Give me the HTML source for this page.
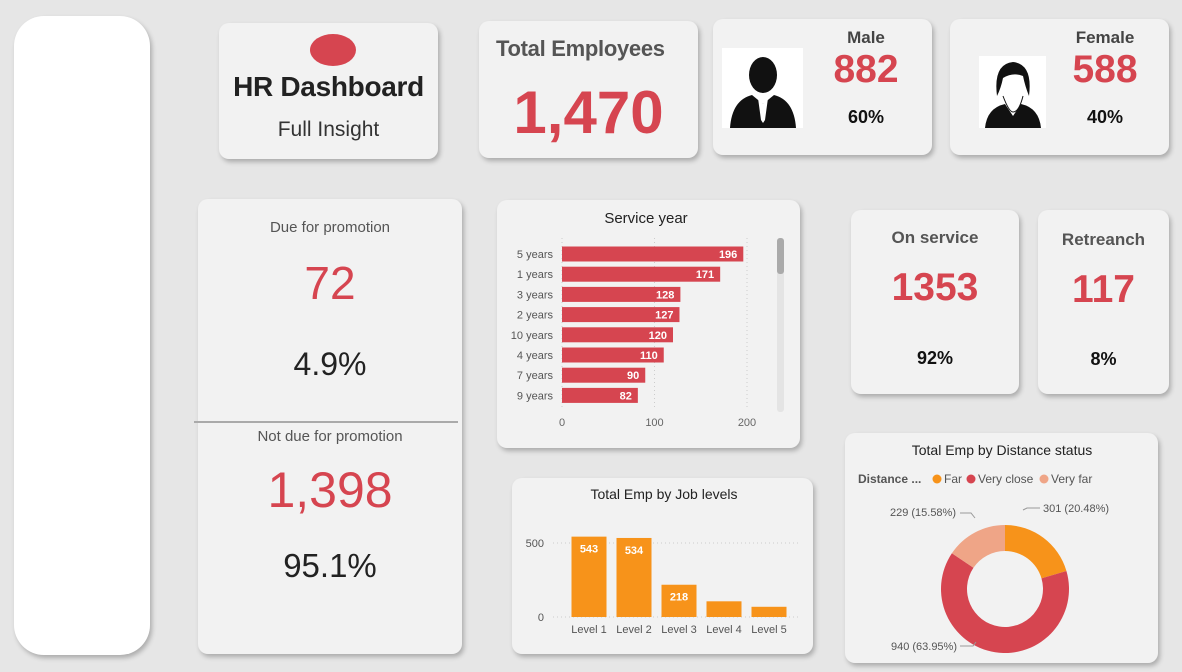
<!DOCTYPE html>
<html><head><meta charset="utf-8"><style>
body{margin:0;width:1182px;height:672px;background:#e6e6e6;font-family:"Liberation Sans","DejaVu Sans",sans-serif;position:relative;overflow:hidden}
.card{position:absolute;background:#f2f2f2;border-radius:10px;box-shadow:2px 3px 5px rgba(0,0,0,0.25)}
.t{position:absolute;width:100%;text-align:center;left:0;line-height:1}
.red{color:#d64550}
svg text{font-family:"Liberation Sans","DejaVu Sans",sans-serif}
</style></head><body>
<div style="position:absolute;left:14px;top:16px;width:136px;height:639px;background:#fff;border-radius:30px;box-shadow:2px 3px 5px rgba(0,0,0,0.25)"></div>

<div class="card" style="left:219px;top:23px;width:219px;height:136px">
 <div style="position:absolute;left:91px;top:11px;width:46px;height:32px;border-radius:50%;background:#d64550"></div>
 <div class="t" style="top:50px;font-size:28px;font-weight:bold;color:#222;letter-spacing:-0.3px">HR Dashboard</div>
 <div class="t" style="top:96px;font-size:21px;color:#333">Full Insight</div>
</div>

<div class="card" style="left:479px;top:21px;width:219px;height:137px">
 <div style="position:absolute;left:17px;top:15px;font-size:22px;font-weight:bold;color:#555;letter-spacing:-0.3px">Total Employees</div>
 <div class="t red" style="top:62px;font-size:60px;font-weight:bold">1,470</div>
</div>

<div class="card" style="left:713px;top:19px;width:219px;height:136px">
 <svg style="position:absolute;left:9px;top:29px" width="81" height="80"><rect width="81" height="80" fill="#fff"/><ellipse cx="41" cy="27" rx="14" ry="18" fill="#111"/><path d="M8 80 Q10 52 30 47 L41 56 L52 47 Q72 52 74 80Z" fill="#111"/><path d="M36 50 L41 56 L46 50 L43 72 L41 75 L39 72Z" fill="#fff"/></svg>
 <div class="t" style="left:103px;width:100px;top:10px;font-size:17px;font-weight:bold;color:#444">Male</div>
 <div class="t red" style="left:103px;width:100px;top:31px;font-size:39px;font-weight:bold">882</div>
 <div class="t" style="left:103px;width:100px;top:89px;font-size:18px;font-weight:bold;color:#111">60%</div>
</div>

<div class="card" style="left:950px;top:19px;width:219px;height:136px">
 <svg style="position:absolute;left:29px;top:37px" width="67" height="72"><rect width="67" height="72" fill="#fff"/><path d="M18 40 Q14 8 34 6 Q54 8 50 40 Q46 30 44 20 Q34 16 24 22 Q22 32 18 40Z" fill="#111"/><path d="M6 72 Q8 52 26 48 L34 60 L42 48 Q60 52 62 72Z" fill="#111"/><path d="M24 40 Q30 56 34 56 Q40 56 44 40" stroke="#111" fill="none"/></svg>
 <div class="t" style="left:105px;width:100px;top:10px;font-size:17px;font-weight:bold;color:#444">Female</div>
 <div class="t red" style="left:105px;width:100px;top:31px;font-size:39px;font-weight:bold">588</div>
 <div class="t" style="left:105px;width:100px;top:89px;font-size:18px;font-weight:bold;color:#111">40%</div>
</div>

<div class="card" style="left:198px;top:199px;width:264px;height:455px">
 <div class="t" style="top:21px;font-size:15px;color:#555">Due for promotion</div>
 <div class="t red" style="top:61px;font-size:46px">72</div>
 <div class="t" style="top:149px;font-size:32px;color:#222">4.9%</div>
 <div style="position:absolute;left:-4px;top:222px;width:264px;height:2px;background:#aaa"></div>
 <div class="t" style="top:230px;font-size:15px;color:#555">Not due for promotion</div>
 <div class="t red" style="top:266px;font-size:50px">1,398</div>
 <div class="t" style="top:350px;font-size:33px;color:#222">95.1%</div>
</div>

<div class="card" style="left:497px;top:200px;width:303px;height:248px"></div>
<svg id="svc" style="position:absolute;left:0;top:0" width="1182" height="672"></svg>

<div class="card" style="left:851px;top:210px;width:168px;height:184px">
 <div class="t" style="top:19px;font-size:17px;font-weight:bold;color:#555">On service</div>
 <div class="t red" style="top:58px;font-size:39px;font-weight:bold">1353</div>
 <div class="t" style="top:139px;font-size:18px;font-weight:bold;color:#111">92%</div>
</div>
<div class="card" style="left:1038px;top:210px;width:131px;height:184px">
 <div class="t" style="top:21px;font-size:17px;font-weight:bold;color:#555">Retreanch</div>
 <div class="t red" style="top:60px;font-size:39px;font-weight:bold">117</div>
 <div class="t" style="top:140px;font-size:18px;font-weight:bold;color:#111">8%</div>
</div>

<div class="card" style="left:512px;top:478px;width:301px;height:176px"></div>
<div class="card" style="left:845px;top:433px;width:313px;height:230px"></div>
<svg id="ov" style="position:absolute;left:0;top:0" width="1182" height="672"></svg>

<script>
const svcCategories=["5 years","1 years","3 years","2 years","10 years","4 years","7 years","9 years"];
const svcValues=[196,171,128,127,120,110,90,82];
const svcTicks=[0,100,200];
const jobCategories=["Level 1","Level 2","Level 3","Level 4","Level 5"];
const jobValues=[543,534,218,106,69];
const jobTicks=[0,500];
const distCategories=["Far","Very close","Very far"];
const distValues=[301,940,229];
const distLabels=["301 (20.48%)","940 (63.95%)","229 (15.58%)"];
const distColors=["#f7931a","#d64550","#efa587"];
const NS="http://www.w3.org/2000/svg";
function mk(p,tag,a,txt){const e=document.createElementNS(NS,tag);for(const k in a)e.setAttribute(k,a[k]);if(txt!==undefined)e.textContent=txt;p.appendChild(e);return e;}
const s=document.getElementById('svc'), o=document.getElementById('ov');
let t=mk(s,'text',{x:646,y:223,'text-anchor':'middle','font-size':15,fill:'#222'},'Service year');


const sx=v=>562+v*0.925, sy=i=>254+i*20.2;
svcTicks.forEach(v=>{
 let l=mk(s,'line',{x1:sx(v),x2:sx(v),y1:238,y2:410,stroke:'#ccc','stroke-dasharray':'1,3'});
 
 
 let tx=mk(s,'text',{x:sx(v),y:426,'text-anchor':'middle','font-size':11,fill:'#666'},v);
 
 
});
svcCategories.forEach((c,i)=>{
 let r=mk(s,'rect',{x:sx(0),y:sy(i)-7.5,width:sx(svcValues[i])-sx(0),height:15,fill:'#d64550'});
 
 
 let lb=mk(s,'text',{x:sx(svcValues[i])-6,y:sy(i)+4,'text-anchor':'end','font-size':11,'font-weight':'bold',fill:'#fff'},svcValues[i]);
 
 
 let cl=mk(s,'text',{x:553,y:sy(i)+4,'text-anchor':'end','font-size':11,fill:'#555'},c);
 
 
});
let sb=mk(s,'rect',{x:777,y:238,width:7,height:174,rx:3,fill:'#e4e4e4'});


let st=mk(s,'rect',{x:777,y:238,width:7,height:36,rx:3,fill:'#aaa'});


t=mk(o,'text',{x:664,y:499,'text-anchor':'middle','font-size':14,fill:'#222'},'Total Emp by Job levels');


const jy=v=>617-v*0.148, jx=i=>589+i*45;
jobTicks.forEach(v=>{
 let l=mk(o,'line',{x1:553,x2:800,y1:jy(v),y2:jy(v),stroke:'#ccc','stroke-dasharray':'1,3'});
 
 
 let tx=mk(o,'text',{x:544,y:jy(v)+4,'text-anchor':'end','font-size':11,fill:'#555'},v);
 
 
});
jobCategories.forEach((c,i)=>{
 let r=mk(o,'rect',{x:jx(i)-17.5,y:jy(jobValues[i]),width:35,height:jy(0)-jy(jobValues[i]),fill:'#f7931a'});
 
 
 if(jobValues[i]>150){
 let lb=mk(o,'text',{x:jx(i),y:jy(jobValues[i])+16,'text-anchor':'middle','font-size':11,'font-weight':'bold',fill:'#fff'},jobValues[i]);
 
 }
 let cl=mk(o,'text',{x:jx(i),y:633,'text-anchor':'middle','font-size':11,fill:'#555'},c);
 
 
});
t=mk(o,'text',{x:1002,y:455,'text-anchor':'middle','font-size':14,fill:'#222'},'Total Emp by Distance status');


t=mk(o,'text',{x:858,y:483,'font-size':12,'font-weight':'bold',fill:'#555'},'Distance ...');


let lx=[937,971,1044];
distCategories.forEach((c,i)=>{
 let d=mk(o,'circle',{cx:lx[i],cy:479,r:4.5,fill:distColors[i]});
 
 
 let tx=mk(o,'text',{x:lx[i]+7,y:483,'font-size':12,fill:'#555'},c);
 
 
});
const cx=1005,cy=589,R=64,r0=38;
const tot=distValues.reduce((a,b)=>a+b,0);
let ang=-Math.PI/2;
const pt=(a,rr)=>[cx+rr*Math.cos(a),cy+rr*Math.sin(a)];
const lblPos=[[1043,512,'start'],[957,650,'end'],[956,516,'end']];
const leaders=[["1023,510","1027,508","1040,508"],["960,646","973,646","976,642"],["960,513","971,513","975,518"]];
distValues.forEach((v,i)=>{
 const a2=ang+v/tot*2*Math.PI, big=(a2-ang)>Math.PI?1:0;
 const p1=pt(ang,R),p2=pt(a2,R),p3=pt(a2,r0),p4=pt(ang,r0);
 let p=mk(o,'path',{d:`M${p1}A${R},${R} 0 ${big} 1 ${p2}L${p3}A${r0},${r0} 0 ${big} 0 ${p4}Z`,fill:distColors[i]});
 
 
 let ll=mk(o,'polyline',{points:leaders[i].join(' '),fill:'none',stroke:'#999','stroke-width':1});
 
 
 const lp=lblPos[i];
 let tx=mk(o,'text',{x:lp[0],y:lp[1],'text-anchor':lp[2],'font-size':11,fill:'#555'},distLabels[i]);
 
 
 ang=a2;
});
</script>
</body></html>
